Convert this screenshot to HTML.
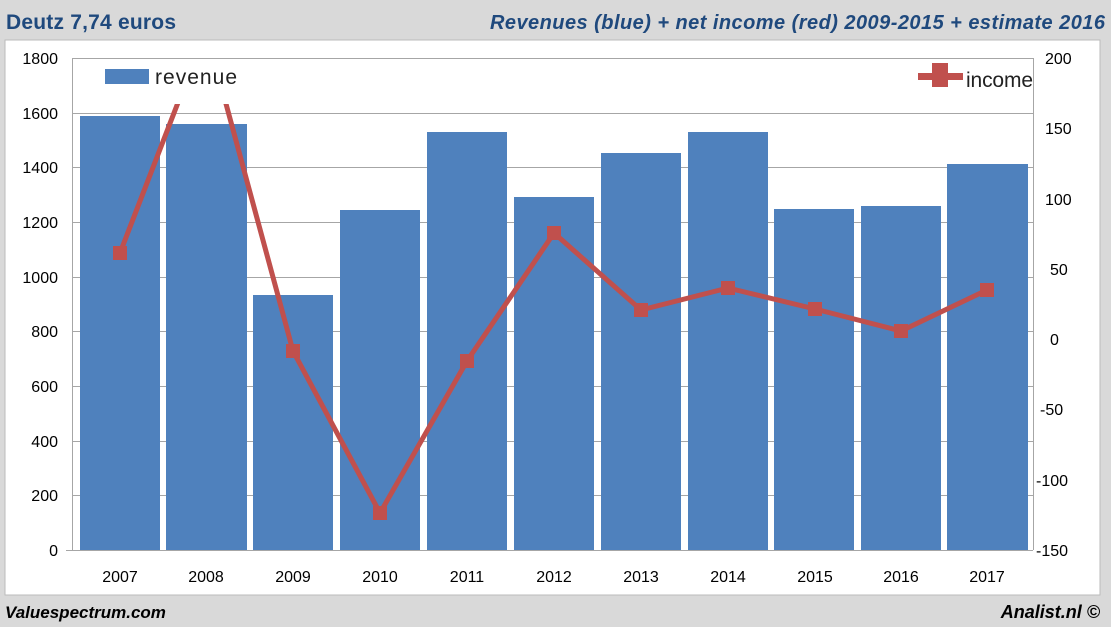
<!DOCTYPE html>
<html><head><meta charset="utf-8"><style>
body{margin:0;background:#d9d9d9;}
svg{display:block;font-family:"Liberation Sans",sans-serif;}
</style></head><body>
<svg width="1111" height="627" viewBox="0 0 1111 627">
<rect width="1111" height="627" fill="#d9d9d9"/>
<rect x="5" y="40" width="1095" height="555" fill="#fff" stroke="#bbb"/>
<text x="6" y="29" font-size="21" font-weight="bold" fill="#1f497d" textLength="170">Deutz  7,74 euros</text>
<text x="1105" y="29" font-size="20" font-weight="bold" font-style="italic" fill="#1f497d" text-anchor="end" textLength="615">Revenues (blue) + net income (red) 2009-2015 + estimate 2016</text>
<g stroke="#a6a6a6" stroke-width="1">
<line x1="72" y1="113.5" x2="1033" y2="113.5"/><line x1="72" y1="167.5" x2="1033" y2="167.5"/><line x1="72" y1="222.5" x2="1033" y2="222.5"/><line x1="72" y1="277.5" x2="1033" y2="277.5"/><line x1="72" y1="331.5" x2="1033" y2="331.5"/><line x1="72" y1="386.5" x2="1033" y2="386.5"/><line x1="72" y1="441.5" x2="1033" y2="441.5"/><line x1="72" y1="495.5" x2="1033" y2="495.5"/>
<line x1="72.5" y1="58" x2="72.5" y2="550"/><line x1="1033.5" y1="58" x2="1033.5" y2="550"/><line x1="66" y1="550.5" x2="1033" y2="550.5"/>
</g>
<g fill="#4f81bd">
<rect x="80" y="116" width="80" height="434"/><rect x="166" y="124" width="81" height="426"/><rect x="253" y="295" width="80" height="255"/><rect x="340" y="210" width="80" height="340"/><rect x="427" y="132" width="80" height="418"/><rect x="514" y="197" width="80" height="353"/><rect x="601" y="153" width="80" height="397"/><rect x="688" y="132" width="80" height="418"/><rect x="774" y="209" width="80" height="341"/><rect x="861" y="206" width="80" height="344"/><rect x="947" y="164" width="81" height="386"/>
</g>
<defs><clipPath id="c"><rect x="72" y="58" width="962" height="492"/></clipPath></defs>
<g clip-path="url(#c)">
<polyline fill="none" stroke="#c0504d" stroke-width="5" stroke-linejoin="round" points="120,253 206,30 293,351 380,513 467,361 554,233 641,310 728,288 815,309 901,331 987,290"/>
<g fill="#c0504d">
<rect x="113" y="246" width="14" height="14"/><rect x="286" y="344" width="14" height="14"/><rect x="373" y="506" width="14" height="14"/><rect x="460" y="354" width="14" height="14"/><rect x="547" y="226" width="14" height="14"/><rect x="634" y="303" width="14" height="14"/><rect x="721" y="281" width="14" height="14"/><rect x="808" y="302" width="14" height="14"/><rect x="894" y="324" width="14" height="14"/><rect x="980" y="283" width="14" height="14"/>
</g></g>
<rect x="74" y="56" width="176" height="48" fill="#fff"/>
<rect x="905" y="56" width="127" height="48" fill="#fff"/>
<g stroke="#a6a6a6" stroke-width="1">
<line x1="72" y1="58.5" x2="1033" y2="58.5"/>
</g>
<rect x="105" y="69" width="44" height="15" fill="#4f81bd"/>
<text x="155" y="84" font-size="21" fill="#222" textLength="82">revenue</text>
<rect x="918" y="73" width="45" height="7" fill="#c0504d"/><rect x="932" y="63" width="16" height="24" fill="#c0504d"/>
<text x="966" y="87" font-size="21" fill="#222" textLength="67">income</text>
<g font-size="16" fill="#000" text-anchor="end">
<text x="58" y="64">1800</text><text x="58" y="119">1600</text><text x="58" y="173">1400</text><text x="58" y="228">1200</text><text x="58" y="283">1000</text><text x="58" y="337">800</text><text x="58" y="392">600</text><text x="58" y="447">400</text><text x="58" y="501">200</text><text x="58" y="556">0</text>
</g>
<g font-size="16" fill="#000">
<text x="1045" y="64">200</text><text x="1045" y="134">150</text><text x="1045" y="205">100</text><text x="1050" y="275">50</text><text x="1050" y="345">0</text><text x="1040" y="415">-50</text><text x="1036" y="486">-100</text><text x="1036" y="556">-150</text>
</g>
<g font-size="16" fill="#000" text-anchor="middle">
<text x="120" y="582">2007</text><text x="206" y="582">2008</text><text x="293" y="582">2009</text><text x="380" y="582">2010</text><text x="467" y="582">2011</text><text x="554" y="582">2012</text><text x="641" y="582">2013</text><text x="728" y="582">2014</text><text x="815" y="582">2015</text><text x="901" y="582">2016</text><text x="987" y="582">2017</text>
</g>
<text x="5" y="618" font-size="17" font-weight="bold" font-style="italic" fill="#000">Valuespectrum.com</text>
<text x="1100" y="618" font-size="18" font-weight="bold" font-style="italic" fill="#000" text-anchor="end">Analist.nl ©</text>
</svg>
</body></html>
